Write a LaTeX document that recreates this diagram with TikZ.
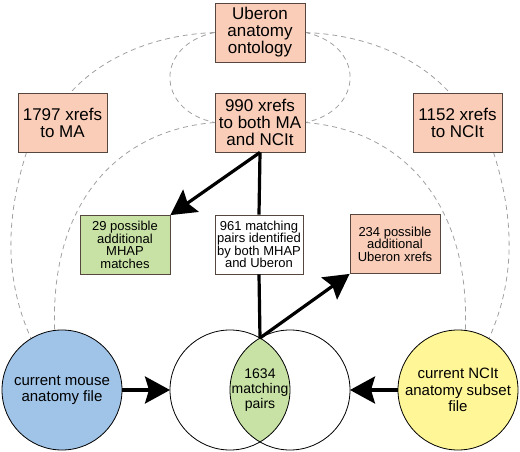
\documentclass[tikz,border=0pt]{standalone}
\usepackage{fontspec}
\setmainfont{Liberation Sans}
\usetikzlibrary{arrows.meta}
\pgfdeclarelayer{background}
\pgfsetlayers{background,main}
\definecolor{salmon}{RGB}{249,205,184}
\definecolor{lgreen}{RGB}{200,226,165}
\definecolor{lblue}{RGB}{160,196,232}
\definecolor{lyellow}{RGB}{255,246,152}
\definecolor{edge}{RGB}{85,70,62}
\definecolor{dashgray}{RGB}{160,160,160}
\begin{document}
\begin{tikzpicture}[x=1pt,y=-1pt,
  bigbox/.style={draw=edge,line width=0.8pt,fill=salmon,minimum width=90pt,minimum height=59pt,inner sep=1pt,align=center,font=\fontsize{17}{17}\selectfont},
  smallbox/.style={draw=edge,line width=0.8pt,minimum width=90pt,minimum height=59pt,inner sep=1pt,align=center,font=\fontsize{13}{12.5}\selectfont},
  filecircle/.style={circle,draw=black,line width=0.8pt,minimum size=120pt,inner sep=0pt,align=center,font=\fontsize{15}{16.5}\selectfont},
  heavy/.style={line width=3.2pt,draw=black},
  heavyarrow/.style={heavy,-{Stealth[length=25pt,width=27pt,inset=4pt]}},
  dashlink/.style={draw=dashgray,line width=0.8pt,dash pattern=on 5pt off 4pt}
]
\useasboundingbox (0,0) rectangle (520,452);

\node[bigbox] (U) at (260,32.5) {Uberon\\anatomy\\ontology};
\node[bigbox] (B) at (260,122.5) {990 xrefs\\to both MA\\and NCIt};
\node[bigbox,minimum width=89pt] (MA) at (62.5,122.5) {1797 xrefs\\to MA};
\node[bigbox,minimum width=89pt] (NC) at (457.5,122.5) {1152 xrefs\\to NCIt};

\node[filecircle,fill=lblue] (mouse) at (62,390) {current mouse\\anatomy file};
\node[filecircle,fill=lyellow] (ncit) at (458,390) {current NCIt\\anatomy subset\\file};

% dashed connections, behind the boxes
\begin{pgfonlayer}{background}
\path[dashlink] (U.west) .. controls (150,35) and (100,60) .. ([xshift=8pt]MA.north);
\path[dashlink] (U.east) .. controls (370,35) and (420,60) .. ([xshift=-8pt]NC.north);
\path[dashlink] (U.west) .. controls (155,45) and (155,110) .. (B.west);
\path[dashlink] (U.east) .. controls (365,45) and (365,110) .. (B.east);
\path[dashlink] (B.west) .. controls (120,130) and (50,200) .. (mouse.97);
\path[dashlink] (B.east) .. controls (400,130) and (470,200) .. (ncit.83);
\path[dashlink] ([xshift=-36pt]MA.south) .. controls (5,220) and (5,280) .. (mouse.121);
\path[dashlink] ([xshift=36pt]NC.south) .. controls (515,220) and (515,280) .. (ncit.59);
\end{pgfonlayer}

% Venn
\coordinate (vl) at (230,390);
\coordinate (vr) at (290,390);
\begin{scope}
  \clip (vl) circle (60pt);
  \fill[lgreen] (vr) circle (60pt);
\end{scope}
\draw[line width=0.8pt] (vl) circle (60pt);
\draw[line width=0.8pt] (vr) circle (60pt);
\node[align=center,font=\fontsize{14}{15}\selectfont] (lens) at (260,390) {1634\\matching\\pairs};
\coordinate (meet) at (260,338);

\node[smallbox,fill=lgreen] (add29) at (125,245) {29 possible\\additional\\MHAP\\matches};
\node[smallbox,fill=white,minimum width=88pt] (both) at (259,244.5) {961 matching\\pairs identified\\by both MHAP\\and Uberon};
\node[smallbox,fill=salmon] (add234) at (395,244) {234 possible\\additional\\Uberon xrefs};

% heavy connectors
\draw[heavyarrow] (B.south) -- (add29.north east);
\draw[heavy] (B.south) -- (both.north);
\draw[heavy] (both.south) -- (meet);
\draw[heavyarrow] (meet) -- (add234.south west);
\draw[heavyarrow] (mouse.east) -- (170,390);
\draw[heavyarrow] (ncit.west) -- (350,390);
\end{tikzpicture}
\end{document}
